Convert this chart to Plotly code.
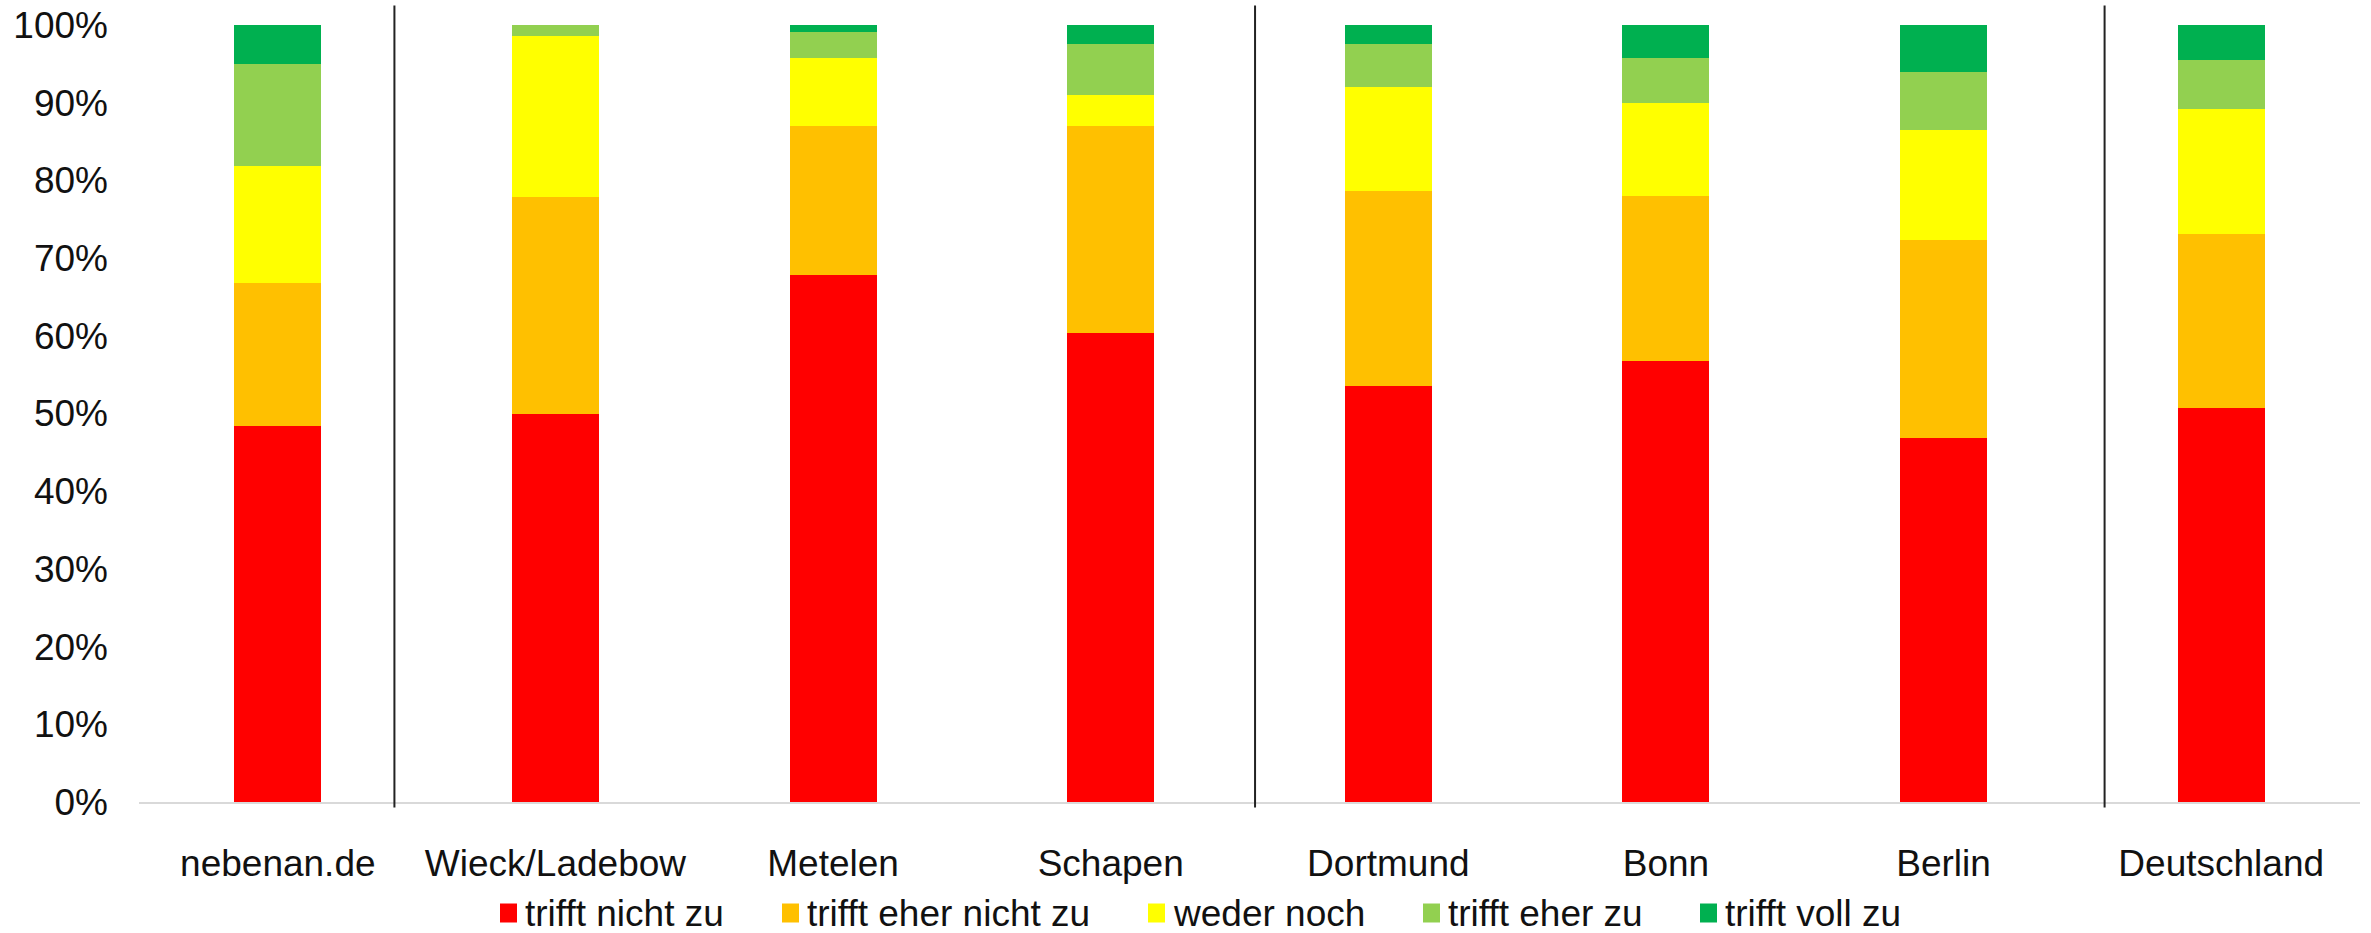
import plotly.graph_objects as go

# Regions / sources compared
categories = ["nebenan.de", "Wieck/Ladebow", "Metelen", "Schapen",
              "Dortmund", "Bonn", "Berlin", "Deutschland"]

# Answer shares in percent, one list per answer option
trifft_nicht_zu = [48.4, 50.0, 67.8, 60.4, 53.5, 56.8, 46.9, 50.7]
trifft_eher_nicht_zu = [18.4, 27.9, 19.2, 26.6, 25.2, 21.2, 25.4, 22.4]
weder_noch = [15.1, 20.7, 8.7, 4.0, 13.3, 12.0, 14.2, 16.1]
trifft_eher_zu = [13.1, 1.4, 3.4, 6.6, 5.6, 5.8, 7.5, 6.3]
trifft_voll_zu = [5.0, 0.0, 0.9, 2.4, 2.4, 4.2, 6.0, 4.5]

series_names = ["trifft nicht zu", "trifft eher nicht zu", "weder noch",
                "trifft eher zu", "trifft voll zu"]
series_values = [trifft_nicht_zu, trifft_eher_nicht_zu, weder_noch,
                 trifft_eher_zu, trifft_voll_zu]
series_colors = ["#FF0000", "#FFC000", "#FFFF00", "#92D050", "#00B050"]

y_ticks = list(range(0, 101, 10))
y_tick_labels = [f"{v}%" for v in y_ticks]

# Vertical separators between groups of regions (category-axis units)
group_breaks = [0.42, 3.52, 6.58]

# Bottom key row: left edge (px) of each colour swatch
key_swatch_px = [500, 782, 1148, 1423, 1700]

FIG_W, FIG_H = 2371, 933
M_L, M_R, M_T, M_B = 139, 11, 25, 131
PLOT_W = FIG_W - M_L - M_R
PLOT_H = FIG_H - M_T - M_B
FONT = "Liberation Sans, Arial, sans-serif"
FONT_SIZE = 37
TEXT_COLOR = "#111111"

# key geometry in px
KEY_Y_MID = 913
SWATCH_W, SWATCH_H = 17, 19
SWATCH_TEXT_GAP = 8


def px_to_paper_x(px):
    return (px - M_L) / PLOT_W


def px_to_paper_y(py):
    return (FIG_H - M_B - py) / PLOT_H


fig = go.Figure()
for name, vals, col in zip(series_names, series_values, series_colors):
    fig.add_trace(go.Bar(
        x=list(range(len(categories))),
        y=vals,
        name=name,
        marker=dict(color=col, line=dict(width=0)),
        hoverinfo="skip",
    ))

shapes = []
for xb in group_breaks:
    shapes.append(dict(
        type="line", xref="x", yref="paper",
        x0=xb, x1=xb, y0=-0.007, y1=1.025,
        line=dict(color="#222222", width=2),
        layer="above",
    ))

annotations = []
for name, col, sx in zip(series_names, series_colors, key_swatch_px):
    shapes.append(dict(
        type="rect", xref="paper", yref="paper",
        x0=px_to_paper_x(sx), x1=px_to_paper_x(sx + SWATCH_W),
        y0=px_to_paper_y(KEY_Y_MID + SWATCH_H / 2),
        y1=px_to_paper_y(KEY_Y_MID - SWATCH_H / 2),
        fillcolor=col, line=dict(width=0),
    ))
    annotations.append(dict(
        text=name, xref="paper", yref="paper",
        x=px_to_paper_x(sx + SWATCH_W + SWATCH_TEXT_GAP), xanchor="left",
        y=px_to_paper_y(KEY_Y_MID), yanchor="middle",
        showarrow=False, borderpad=0, borderwidth=0,
        font=dict(family=FONT, size=FONT_SIZE, color=TEXT_COLOR),
    ))

fig.update_layout(
    width=FIG_W,
    height=FIG_H,
    margin=dict(l=M_L, r=M_R, t=M_T, b=M_B, autoexpand=False),
    paper_bgcolor="white",
    plot_bgcolor="white",
    barmode="stack",
    bargap=0.687,
    font=dict(family=FONT, size=FONT_SIZE, color=TEXT_COLOR),
    shapes=shapes,
    annotations=annotations,
    showlegend=False,
    xaxis=dict(
        tickmode="array",
        tickvals=list(range(len(categories))),
        ticktext=categories,
        range=[-0.5, len(categories) - 0.5],
        showline=True, linecolor="#D9D9D9", linewidth=2,
        showgrid=False, zeroline=False,
        ticks="", ticklabelstandoff=28,
        tickfont=dict(family=FONT, size=FONT_SIZE, color=TEXT_COLOR),
    ),
    yaxis=dict(
        range=[0, 100],
        tickmode="array",
        tickvals=y_ticks,
        ticktext=y_tick_labels,
        showline=False, showgrid=False, zeroline=False,
        ticks="", ticklabelstandoff=30,
        tickfont=dict(family=FONT, size=FONT_SIZE, color=TEXT_COLOR),
    ),
)

fig.write_html("out.html")
